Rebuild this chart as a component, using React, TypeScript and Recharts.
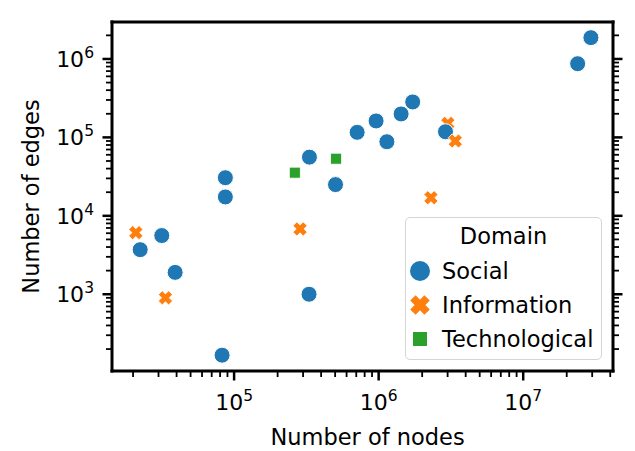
import React from 'react';
import { ScatterChart, Scatter, XAxis, YAxis, Legend, Label } from 'recharts';

// nodes / edges per network
const socialNodes = [2.94e7, 2.38e7, 1.72e6, 1.43e6, 9.6e5, 7.1e5, 1.14e6, 2.9e6, 3.32e5, 5.03e5, 8.7e4, 8.7e4, 3.16e4, 2.24e4, 3.91e4, 3.3e5, 8.26e4];
const socialEdges = [1.87e6, 8.7e5, 2.83e5, 1.99e5, 1.62e5, 1.16e5, 8.8e4, 1.18e5, 5.6e4, 2.5e4, 3.06e4, 1.74e4, 5.6e3, 3.7e3, 1.9e3, 1.0e3, 167];

// first one sits under a social circle, the rest are drawn on top
const infoNodesBehind = [3.01e6];
const infoEdgesBehind = [1.51e5];
const infoNodes = [2.09e4, 3.35e4, 2.86e5, 2.3e6, 3.39e6];
const infoEdges = [6.1e3, 900, 6.8e3, 1.7e4, 9.0e4];

const techNodes = [2.63e5, 5.08e5];
const techEdges = [3.55e4, 5.35e4];

const domains = ['Social', 'Information', 'Technological'];

const xDomain = [1.43e4, 4.18e7];
const yDomain = [105, 2.96e6];
const majorX = [1e5, 1e6, 1e7];
const majorY = [1e3, 1e4, 1e5, 1e6];
const mantissas = [1, 2, 3, 4, 5, 6, 7, 8, 9];

const BLUE = '#1f77b4';
const ORANGE = '#ff7f0e';
const GREEN = '#2ca02c';
const FONT = 'DejaVu Sans, sans-serif';

const logTicks = (lo: number, hi: number) => {
  const out: number[] = [];
  for (let e = Math.floor(Math.log10(lo)); e <= Math.ceil(Math.log10(hi)); e++) {
    mantissas.forEach(m => {
      const v = m * Math.pow(10, e);
      if (v >= lo && v <= hi) out.push(v);
    });
  }
  return out;
};
const xTicks = logTicks(xDomain[0], xDomain[1]);
const yTicks = logTicks(yDomain[0], yDomain[1]);

const pts = (xs: number[], ys: number[]) => xs.map((x, i) => ({ x, y: ys[i] }));
const socialData = pts(socialNodes, socialEdges);
const infoBehindData = pts(infoNodesBehind, infoEdgesBehind);
const infoData = pts(infoNodes, infoEdges);
const techData = pts(techNodes, techEdges);

const isMajor = (v: number, majors: number[]) => majors.some(m => Math.abs(m - v) / m < 1e-6);

const xPath = (cx: number, cy: number, s: number) => {
  const a = 0.5 * s, t = 0.19 * s;
  const plus = [[-t, a], [t, a], [t, t], [a, t], [a, -t], [t, -t], [t, -a], [-t, -a], [-t, -t], [-a, -t], [-a, t], [-t, t]];
  const c = Math.SQRT1_2;
  return plus.map(([px, py], i) => `${i ? 'L' : 'M'}${cx + (px - py) * c},${cy + (px + py) * c}`).join(' ') + ' Z';
};

const CircleShape = (p: any) => <circle cx={p.cx} cy={p.cy} r={8} fill={BLUE} stroke="#fff" strokeWidth={1} />;
const CrossShape = (p: any) => <path d={xPath(p.cx, p.cy, 14.5)} fill={ORANGE} stroke="#fff" strokeWidth={0.8} />;
const SquareShape = (p: any) => <rect x={p.cx - 5.5} y={p.cy - 5.5} width={11} height={11} fill={GREEN} stroke="#fff" strokeWidth={0.8} />;

const powLabel = (v: number) => Math.round(Math.log10(v));

const BottomTick = (props: any) => {
  const { x, y, payload } = props;
  const major = isMajor(payload.value, majorX);
  return (
    <g>
      <line x1={x} y1={y} x2={x} y2={y + (major ? 9.5 : 6)} stroke="#000" strokeWidth={major ? 2.5 : 1.8} />
      {major && (
        <text x={x} y={y + 39} textAnchor="middle" fontSize={22} fontFamily={FONT} fill="#000">
          10<tspan dy={-9} fontSize={15.5}>{powLabel(payload.value)}</tspan>
        </text>
      )}
    </g>
  );
};

const TopTick = (props: any) => {
  const { x, y, payload } = props;
  const major = isMajor(payload.value, majorX);
  return <line x1={x} y1={y} x2={x} y2={y - (major ? 9.5 : 6)} stroke="#000" strokeWidth={major ? 2.5 : 1.8} />;
};

const LeftTick = (props: any) => {
  const { x, y, payload } = props;
  const major = isMajor(payload.value, majorY);
  return (
    <g>
      <line x1={x} y1={y} x2={x - (major ? 9.5 : 6)} y2={y} stroke="#000" strokeWidth={major ? 2.5 : 1.8} />
      {major && (
        <text x={x - 18} y={y + 8} textAnchor="end" fontSize={22} fontFamily={FONT} fill="#000">
          10<tspan dy={-9} fontSize={15.5}>{powLabel(payload.value)}</tspan>
        </text>
      )}
    </g>
  );
};

const RightTick = (props: any) => {
  const { x, y, payload } = props;
  const major = isMajor(payload.value, majorY);
  return <line x1={x} y1={y} x2={x + (major ? 9.5 : 6)} y2={y} stroke="#000" strokeWidth={major ? 2.5 : 1.8} />;
};

const XLabel = (props: any) => {
  const vb = props.viewBox;
  return (
    <text x={vb.x + vb.width / 2 + 5} y={vb.y + 74} textAnchor="middle" fontSize={22.5} fontFamily={FONT} fill="#000">
      Number of nodes
    </text>
  );
};

const YLabel = (props: any) => {
  const vb = props.viewBox;
  const cx = vb.x + 39;
  const cy = vb.y + vb.height / 2;
  return (
    <text x={cx} y={cy} transform={`rotate(-90, ${cx}, ${cy})`} textAnchor="middle" fontSize={22.5} fontFamily={FONT} fill="#000">
      Number of edges
    </text>
  );
};

const legendMarkers = [
  <circle key="c" cx={12} cy={12} r={10} fill={BLUE} />,
  <path key="x" d={xPath(12, 12, 20)} fill={ORANGE} />,
  <rect key="s" x={5} y={5} width={14} height={14} fill={GREEN} />,
];

const DomainLegend = () => (
  <div style={{ position: 'relative', width: 197, height: 143, boxSizing: 'border-box', border: '1.5px solid #d4d4d4', borderRadius: 5, background: 'rgba(255,255,255,0.85)', fontFamily: FONT, fontSize: 22.5, color: '#000' }}>
    <div style={{ position: 'absolute', left: 0, right: 0, top: 3, lineHeight: '30px', textAlign: 'center' }}>Domain</div>
    {domains.map((d, i) => (
      <div key={d} style={{ position: 'absolute', left: 0, top: 37 + i * 34, height: 32, display: 'flex', alignItems: 'center', whiteSpace: 'nowrap' }}>
        <svg width={24} height={24} style={{ marginLeft: 2 }}>{legendMarkers[i]}</svg>
        <span style={{ marginLeft: 10, lineHeight: '32px' }}>{d}</span>
      </div>
    ))}
  </div>
);

const axisLine = { stroke: '#000', strokeWidth: 3, strokeLinecap: 'square' as const };

export default function App() {
  return (
    <div style={{ position: 'absolute', left: 0, top: 0, background: '#fff' }}>
      <ScatterChart width={635} height={451} margin={{ top: 0, right: 0, bottom: 0, left: 0 }}>
        <XAxis
          dataKey="x" type="number" scale="log" domain={xDomain} allowDataOverflow
          ticks={xTicks} interval={0} tick={<BottomTick />} tickSize={0} tickMargin={0} tickLine={false}
          axisLine={axisLine} height={80}
        >
          <Label content={<XLabel />} />
        </XAxis>
        <XAxis
          xAxisId="top" orientation="top" type="number" scale="log" domain={xDomain} allowDataOverflow
          ticks={xTicks} interval={0} tick={<TopTick />} tickSize={0} tickMargin={0} tickLine={false}
          axisLine={axisLine} height={22}
        />
        <YAxis
          dataKey="y" type="number" scale="log" domain={yDomain} allowDataOverflow
          ticks={yTicks} interval={0} tick={<LeftTick />} tickSize={0} tickMargin={0} tickLine={false}
          axisLine={axisLine} width={112}
        >
          <Label content={<YLabel />} />
        </YAxis>
        <YAxis
          yAxisId="right" orientation="right" type="number" scale="log" domain={yDomain} allowDataOverflow
          ticks={yTicks} interval={0} tick={<RightTick />} tickSize={0} tickMargin={0} tickLine={false}
          axisLine={axisLine} width={22}
        />
        <Scatter name="Information" data={infoBehindData} shape={<CrossShape />} isAnimationActive={false} legendType="none" />
        <Scatter name="Social" data={socialData} shape={<CircleShape />} isAnimationActive={false} />
        <Scatter name="Information" data={infoData} shape={<CrossShape />} isAnimationActive={false} />
        <Scatter name="Technological" data={techData} shape={<SquareShape />} isAnimationActive={false} />
        <Legend
          layout="horizontal" verticalAlign="middle" align="center"
          content={<DomainLegend />}
          wrapperStyle={{ left: 405, top: 217, width: 197, height: 143 }}
        />
      </ScatterChart>
    </div>
  );
}
